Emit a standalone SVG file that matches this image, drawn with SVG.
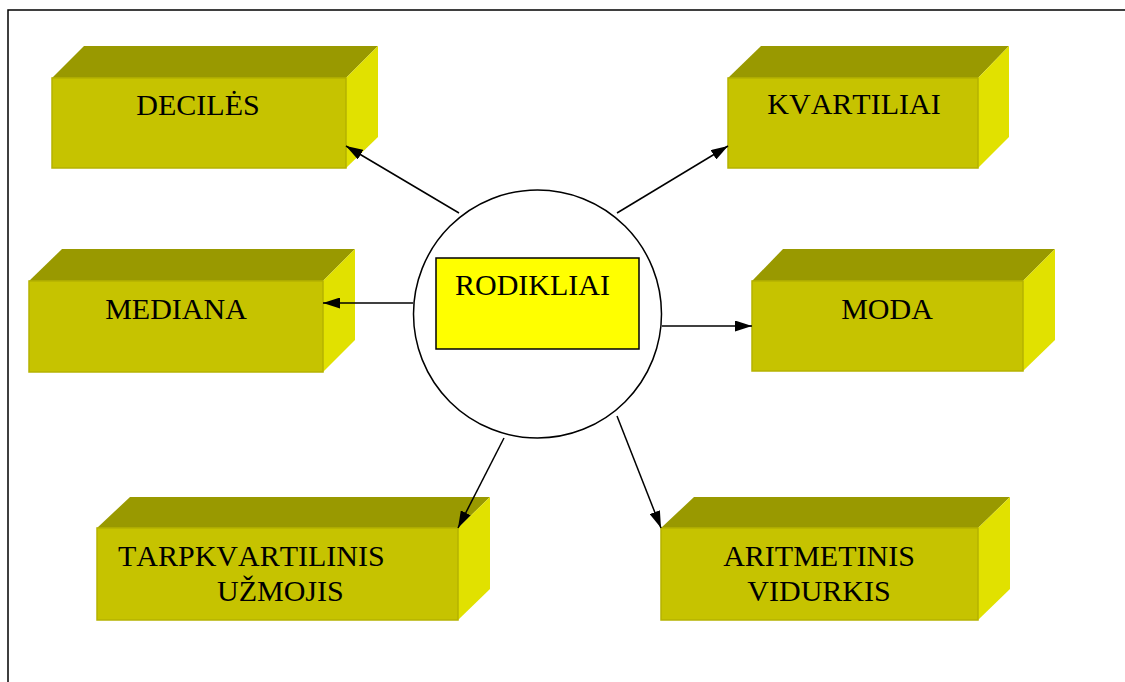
<svg xmlns="http://www.w3.org/2000/svg" width="1125" height="682" viewBox="0 0 1125 682">
<style>
.front{fill:#C6C300;stroke:#B5B200;stroke-width:1.5}
.top{fill:#999900}
.side{fill:#E1E100}
.lbl{font-family:"Liberation Serif","Times New Roman",serif;font-size:30px;fill:#000;font-kerning:none}
.conn{stroke:#000;stroke-width:1.5;fill:none;marker-end:url(#ah)}
</style>
<defs>
<marker id="ah" viewBox="0 0 17 11" refX="17" refY="5.5" markerWidth="17" markerHeight="11" markerUnits="userSpaceOnUse" orient="auto">
<path d="M0,0 L17,5.5 L0,11 Z" fill="#000"/>
</marker>
</defs>
<rect x="0" y="0" width="1125" height="682" fill="#fff"/>
<rect x="8" y="10" width="1140" height="700" fill="none" stroke="#000" stroke-width="1.5"/>

<g id="decile">
<polygon class="top" points="52,78 84,46 378,46 346,78"/>
<polygon class="side" points="346,78 378,46 378,137 346,168"/>
<rect class="front" x="52" y="78" width="294" height="90"/>
<text class="lbl" x="198" y="115" text-anchor="middle">DECILĖS</text>
</g>

<g id="kvartiliai">
<polygon class="top" points="728,78 761,46 1009,46 978,78"/>
<polygon class="side" points="978,78 1009,46 1009,137 978,168"/>
<rect class="front" x="728" y="78" width="250" height="90"/>
<text class="lbl" x="854" y="114" text-anchor="middle">KVARTILIAI</text>
</g>

<g id="mediana">
<polygon class="top" points="29,281 62,249 355,249 323,281"/>
<polygon class="side" points="323,281 355,249 355,340 323,372"/>
<rect class="front" x="29" y="281" width="294" height="91"/>
<text class="lbl" x="176" y="319" text-anchor="middle">MEDIANA</text>
</g>

<g id="moda">
<polygon class="top" points="752,281 783,249 1055,249 1023,281"/>
<polygon class="side" points="1023,281 1055,249 1055,340 1023,371"/>
<rect class="front" x="752" y="281" width="271" height="90"/>
<text class="lbl" x="887" y="319" text-anchor="middle">MODA</text>
</g>

<g id="tarpkvartilinis">
<polygon class="top" points="97,528 130,497 490,497 458,528"/>
<polygon class="side" points="458,528 490,497 490,589 458,620"/>
<rect class="front" x="97" y="528" width="361" height="92"/>
<text class="lbl" x="118" y="566">TARPKVARTILINIS</text>
<text class="lbl" x="217" y="601">UŽMOJIS</text>
</g>

<g id="aritmetinis">
<polygon class="top" points="661,528 694,497 1010,497 978,528"/>
<polygon class="side" points="978,528 1010,497 1010,589 978,620"/>
<rect class="front" x="661" y="528" width="317" height="92"/>
<text class="lbl" x="819" y="566" text-anchor="middle">ARITMETINIS</text>
<text class="lbl" x="819" y="601" text-anchor="middle">VIDURKIS</text>
</g>

<g id="rodikliai">
<circle cx="537.5" cy="314" r="124" fill="#fff" stroke="#000" stroke-width="1.5"/>
<rect x="436" y="258" width="203" height="91" fill="#FFFF00" stroke="#000" stroke-width="1.5"/>
<text class="lbl" x="455" y="295">RODIKLIAI</text>
</g>

<g id="connectors">
<line class="conn" x1="459" y1="213" x2="346" y2="146"/>
<line class="conn" x1="617" y1="213" x2="728" y2="146"/>
<line class="conn" x1="413" y1="303" x2="323" y2="303"/>
<line class="conn" x1="662" y1="326" x2="752" y2="326"/>
<line class="conn" x1="504" y1="438" x2="458" y2="528"/>
<line class="conn" x1="617" y1="416" x2="661" y2="528"/>
</g>
</svg>
